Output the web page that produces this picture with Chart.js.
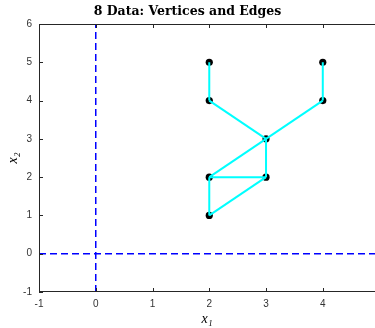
<!DOCTYPE html>
<html>
<head>
<meta charset="utf-8">
<script src="https://cdn.jsdelivr.net/npm/chart.js@4"></script>
<style>html,body{margin:0;padding:0;background:#fff;}canvas{display:block;}</style>
</head>
<body>
<canvas id="c" width="375" height="328"></canvas>
<script>
const titleText = "8 Data: Vertices and Edges";
const xLabel = "x\u2081";
const yLabel = "x\u2082";
const vertexX = [2, 2, 4, 4, 3, 2, 3, 2];
const vertexY = [5, 4, 5, 4, 3, 2, 2, 1];
const edgeFrom = [0, 2, 1, 3, 4, 4, 5, 5, 7];
const edgeTo   = [1, 3, 4, 4, 5, 6, 6, 7, 6];
const xMin = -1, xMax = 4.92;
const yMin = -1, yMax = 6;
const xTicks = [-1, 0, 1, 2, 3, 4];
const yTicks = [-1, 0, 1, 2, 3, 4, 5, 6];
const vLineX = [0, 0];
const vLineY = [yMin, yMax];
const hLineX = [xMin, xMax];
const hLineY = [0, 0];

const datasets = [];
datasets.push({
  label: 'vertices',
  data: vertexX.map((x, i) => ({x, y: vertexY[i]})),
  showLine: false,
  pointRadius: 3.6,
  pointBackgroundColor: '#000',
  pointBorderColor: '#000',
  pointBorderWidth: 0,
  order: 2
});
edgeFrom.forEach((a, k) => {
  const b = edgeTo[k];
  datasets.push({
    label: 'edge' + k,
    data: [{x: vertexX[a], y: vertexY[a]}, {x: vertexX[b], y: vertexY[b]}],
    showLine: true,
    borderColor: '#00ffff',
    borderWidth: 2,
    pointRadius: 0,
    order: 1
  });
});
datasets.push({
  label: 'vline',
  data: vLineX.map((x, i) => ({x, y: vLineY[i]})),
  showLine: true, borderColor: '#0000ff', borderWidth: 1.5, borderDash: [7, 4],
  pointRadius: 0, order: 3
});
datasets.push({
  label: 'hline',
  data: hLineX.map((x, i) => ({x, y: hLineY[i]})),
  showLine: true, borderColor: '#0000ff', borderWidth: 1.5, borderDash: [7, 4],
  pointRadius: 0, order: 3
});

const framePlugin = {
  id: 'frame',
  afterDatasetsDraw(chart) {
    const ctx = chart.ctx;
    const a = chart.chartArea;
    const xs = chart.scales.x, ys = chart.scales.y;
    ctx.save();
    ctx.strokeStyle = '#262626';
    ctx.lineWidth = 1;
    ctx.beginPath();
    ctx.moveTo(a.right, a.top + 0.5);
    ctx.lineTo(a.left + 0.5, a.top + 0.5);
    ctx.lineTo(a.left + 0.5, a.bottom - 0.5);
    ctx.lineTo(a.right, a.bottom - 0.5);
    const tl = 4;
    xTicks.forEach(v => {
      const px = Math.round(xs.getPixelForValue(v)) + 0.5;
      ctx.moveTo(px, a.bottom); ctx.lineTo(px, a.bottom - tl);
      ctx.moveTo(px, a.top); ctx.lineTo(px, a.top + tl);
    });
    yTicks.forEach(v => {
      const py = Math.round(ys.getPixelForValue(v)) + 0.5;
      ctx.moveTo(a.left, py); ctx.lineTo(a.left + tl, py);
    });
    ctx.stroke();
    ctx.restore();
  }
};

const tickFont = {family: '"Liberation Sans", Arial, sans-serif', size: 10};
new Chart(document.getElementById('c'), {
  type: 'scatter',
  data: {datasets},
  plugins: [framePlugin],
  options: {
    responsive: false,
    devicePixelRatio: 1,
    animation: false,
    layout: {padding: 0, autoPadding: false},
    plugins: {
      legend: {display: false},
      tooltip: {enabled: false},
      title: {
        display: true, text: titleText, color: '#000',
        font: {family: '"DejaVu Serif", serif', size: 12.5, weight: 'bold', lineHeight: 1.2},
        padding: {top: 4, bottom: 5}
      }
    },
    scales: {
      x: {
        type: 'linear', min: xMin, max: xMax,
        grid: {display: false, drawTicks: false},
        border: {display: false},
        afterBuildTicks: s => { s.ticks = xTicks.map(v => ({value: v})); },
        afterFit: s => { s.height = 36; s.paddingRight = 0; s.paddingLeft = 0; },
        ticks: {color: '#333', font: tickFont, padding: 6, autoSkip: false, maxRotation: 0,
                callback: v => String(v)},
        title: {display: true, text: xLabel, color: '#000',
                font: {family: '"Liberation Serif", serif', size: 14, style: 'italic', lineHeight: 1.2},
                padding: {top: 0, bottom: 0}}
      },
      y: {
        type: 'linear', min: yMin, max: yMax,
        grid: {display: false, drawTicks: false},
        border: {display: false},
        afterBuildTicks: s => { s.ticks = yTicks.map(v => ({value: v})); },
        afterFit: s => { s.width = 39; },
        ticks: {color: '#333', font: tickFont, padding: 7, autoSkip: false,
                callback: v => String(v)},
        title: {display: true, text: yLabel, color: '#000',
                font: {family: '"Liberation Serif", serif', size: 14, style: 'italic', lineHeight: 1.2},
                padding: {top: 5, bottom: 0}}
      }
    }
  }
});
</script>
</body>
</html>
